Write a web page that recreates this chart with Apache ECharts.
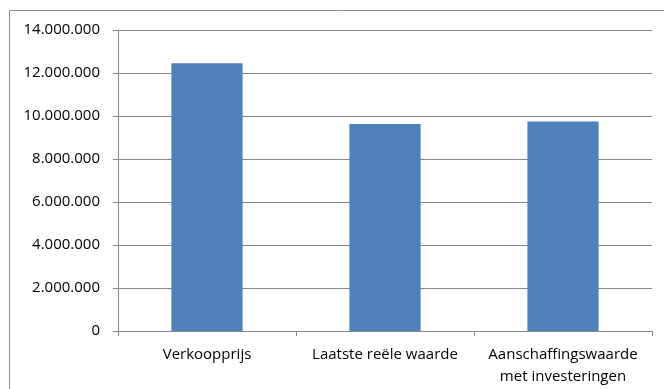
<!DOCTYPE html>
<html lang="nl">
<head>
    <meta charset="UTF-8">
    <title>chart</title>
    <script src="https://cdn.jsdelivr.net/npm/echarts@6/dist/echarts.min.js"></script>
    <style>
        html, body { margin: 0; padding: 0; background: #fff; }
    </style>
</head>
<body>
<div id="chart" style="width: 664px;height:389px;"></div>
<script type="text/javascript">
    var categories = ['Verkoopprijs', 'Laatste reële waarde', 'Aanschaffingswaarde\nmet investeringen'];
    var values = [12450000, 9630000, 9750000];
    var yMin = 0;
    var yMax = 14000000;
    var yStep = 2000000;

    function fmt(v) {
        return String(v).replace(/\B(?=(\d{3})+(?!\d))/g, '.');
    }

    var myChart = echarts.init(document.getElementById('chart'));
    var option = {
        animation: false,
        textStyle: { fontFamily: 'Open Sans' },
        graphic: [{
            type: 'rect',
            shape: { x: 9.5, y: 10.5, width: 700, height: 420 },
            style: { fill: 'none', stroke: '#8c8c8c', lineWidth: 1 }
        }],
        grid: { left: 118, right: 12, top: 30, bottom: 58 },
        xAxis: {
            type: 'category',
            data: categories,
            axisLine: { lineStyle: { color: '#868686' } },
            axisTick: { show: true, length: 5, lineStyle: { color: '#868686' } },
            axisLabel: {
                interval: 0, color: '#000', fontSize: 15, margin: 13,
                lineHeight: 22, fontFamily: 'Open Sans'
            }
        },
        yAxis: {
            type: 'value',
            min: yMin, max: yMax, interval: yStep,
            axisLine: { show: true, lineStyle: { color: '#868686' } },
            axisTick: { show: true, length: 5, lineStyle: { color: '#868686' } },
            splitLine: { lineStyle: { color: '#868686' } },
            axisLabel: {
                color: '#000', fontSize: 15, margin: 18, fontFamily: 'Open Sans',
                formatter: fmt
            }
        },
        series: [{
            type: 'bar',
            data: values,
            barWidth: '40%',
            itemStyle: { color: '#4f81bd' }
        }]
    };
    myChart.setOption(option);
</script>
</body>
</html>
